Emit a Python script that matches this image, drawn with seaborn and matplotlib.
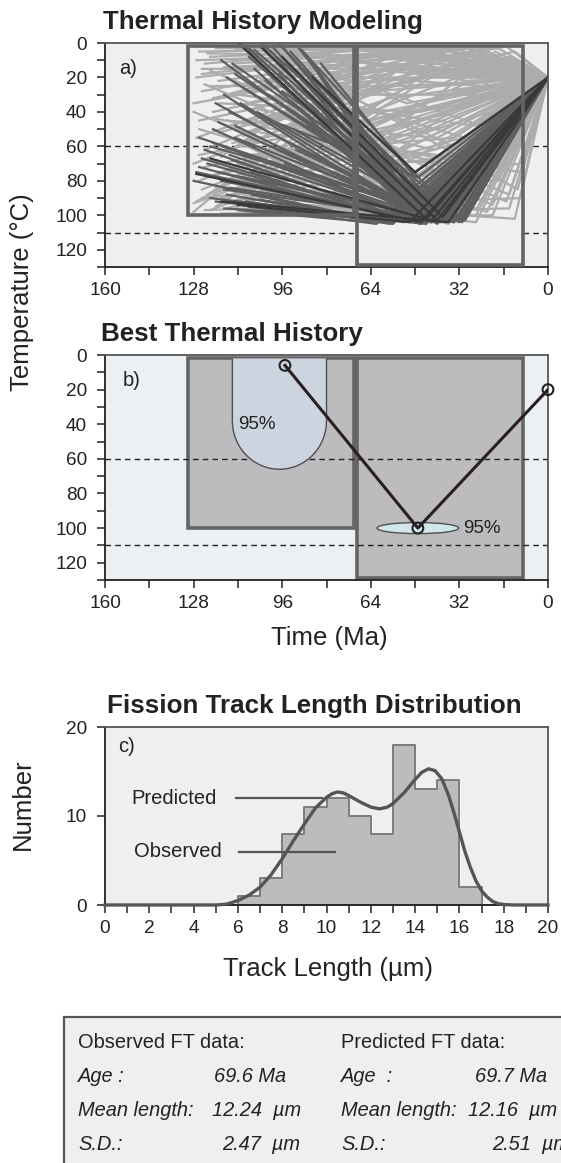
import numpy as np
import pandas as pd
import matplotlib
matplotlib.use("Agg")
import matplotlib.pyplot as plt
from matplotlib import patches
import seaborn as sns

# ---- panel a: trayectorias t-T (inicio caja 1 -> punto medio caja 2 -> superficie)
end_time = 0
end_temp = 20

# trayectorias aceptables (gris claro)
acc_t0 = [126, 124, 127, 125, 122, 128, 120, 126, 118, 115, 127, 124, 121, 128, 119, 126, 123, 127, 120, 125,
          117, 122, 128, 113, 110, 116, 108, 112, 105, 100, 98, 95, 90, 86, 82, 78, 75, 72, 102, 96,
          118, 124, 114, 106, 92, 88, 84, 80, 76, 109, 127, 121, 111, 103, 99, 93, 87, 125, 119, 115,
          127, 125, 123, 121, 119, 117, 115, 113, 111, 109, 107, 105, 103, 101, 99, 97, 95, 93, 91, 89,
          126, 124, 122, 120, 118, 116, 114, 112, 110, 108, 106, 104, 102, 100, 98, 96, 94, 92, 90, 88,
          128, 126, 124, 122, 120, 118, 116, 114, 112, 110, 85, 83, 81, 79, 77, 128, 125, 122, 119, 116]
acc_T0 = [5, 12, 20, 28, 8, 35, 3, 45, 15, 25, 55, 62, 40, 70, 52, 80, 88, 92, 95, 85,
          90, 97, 93, 96, 88, 75, 65, 30, 20, 5, 12, 40, 60, 85, 97, 70, 50, 30, 92, 99,
          99, 97, 80, 45, 15, 4, 25, 10, 3, 10, 75, 68, 58, 72, 82, 90, 94, 90, 86, 93,
          10, 18, 6, 32, 22, 14, 48, 4, 36, 60, 8, 26, 44, 2, 16, 30, 6, 22, 50, 12,
          65, 72, 78, 84, 90, 96, 58, 70, 82, 92, 38, 52, 66, 80, 94, 20, 34, 46, 74, 88,
          40, 50, 24, 16, 44, 66, 30, 12, 86, 54, 40, 60, 80, 22, 90, 98, 15, 25, 35, 45]
acc_t1 = [60, 52, 45, 38, 30, 24, 18, 12, 62, 55, 48, 40, 33, 27, 20, 14, 58, 50, 44, 36,
          28, 22, 16, 60, 52, 42, 34, 26, 19, 12, 62, 54, 46, 38, 30, 22, 15, 11, 26, 20,
          14, 10, 18, 24, 28, 58, 48, 40, 32, 25, 64, 60, 56, 36, 32, 26, 12, 10, 13, 9,
          55, 48, 42, 36, 30, 25, 20, 16, 60, 53, 47, 41, 35, 29, 23, 17, 13, 63, 57, 51,
          45, 39, 33, 27, 21, 15, 11, 59, 53, 47, 41, 35, 29, 23, 17, 62, 56, 50, 44, 38,
          32, 26, 20, 14, 10, 61, 55, 49, 43, 37, 31, 25, 19, 15, 11, 64, 58, 52, 46, 40]
acc_T1 = [3, 2, 4, 3, 2, 4, 3, 5, 8, 12, 10, 6, 9, 7, 10, 8, 20, 25, 18, 30,
          22, 35, 28, 40, 45, 50, 55, 48, 60, 55, 70, 85, 95, 100, 103, 98, 92, 85, 104, 100,
          96, 90, 80, 75, 65, 5, 3, 6, 4, 3, 100, 104, 102, 105, 104, 100, 102, 70, 60, 45,
          6, 4, 8, 5, 3, 7, 9, 12, 15, 14, 18, 20, 16, 22, 25, 30, 20, 28, 32, 35,
          38, 42, 28, 34, 40, 50, 30, 45, 52, 58, 62, 66, 70, 75, 65, 80, 88, 92, 96, 99,
          102, 97, 94, 88, 75, 2, 3, 5, 2, 4, 6, 3, 5, 2, 10, 12, 15, 25, 40, 55]

# trayectorias buenas (gris oscuro)
good_t0 = [111, 108, 104, 100, 97, 94, 90, 87, 113, 110, 106, 102, 117, 119, 115, 121, 113, 125, 127, 122,
           118, 116, 112, 108, 104, 98, 95, 92, 89, 85, 82, 100, 110, 96, 93, 120, 107, 114, 103, 91,
           112, 109, 106, 103, 99, 96, 93, 89, 86, 84, 118, 116, 114, 111, 108, 105, 101, 97, 94, 91,
           126, 124, 123, 121, 119, 117, 115, 113, 110, 107, 128, 126, 122, 120, 117, 115, 112, 109, 106, 102]
good_T0 = [1, 3, 2, 5, 1, 6, 3, 8, 18, 26, 15, 22, 30, 46, 40, 50, 55, 67, 75, 60,
           80, 88, 93, 95, 91, 85, 70, 50, 35, 20, 12, 45, 65, 28, 15, 35, 75, 68, 58, 62,
           0, 2, 4, 1, 3, 2, 5, 4, 10, 14, 10, 20, 12, 35, 8, 40, 30, 18, 38, 25,
           55, 62, 70, 58, 75, 85, 65, 48, 78, 88, 80, 72, 90, 92, 96, 84, 97, 92, 98, 94]
good_t1 = [46, 42, 38, 50, 34, 44, 40, 48, 36, 32, 45, 41, 47, 43, 37, 51, 39, 49, 45, 35,
           42, 58, 55, 62, 52, 46, 40, 33, 44, 48, 49, 47, 38, 30, 36, 41, 53, 46, 34, 39,
           43, 39, 35, 31, 45, 41, 37, 33, 47, 43, 39, 35, 31, 44, 40, 36, 32, 48, 42, 38,
           34, 50, 46, 42, 38, 34, 45, 41, 37, 60, 56, 52, 48, 44, 40, 36, 64, 57, 49, 42]
good_T1 = [100, 102, 103, 98, 104, 101, 104, 103, 101, 103, 104, 100, 102, 103, 104, 101, 102, 104, 103, 100,
           104, 104, 103, 105, 104, 103, 101, 103, 104, 75, 76, 78, 104, 103, 104, 104, 103, 105, 104, 102,
           103, 104, 102, 103, 100, 104, 103, 102, 99, 103, 104, 103, 104, 101, 105, 103, 104, 102, 104, 103,
           104, 103, 105, 104, 103, 104, 102, 104, 103, 104, 105, 103, 104, 105, 104, 103, 104, 105, 103, 104]

# mejores ajustes (casi negro)
top_t0 = [111, 103, 127, 122, 112, 118, 85, 96]
top_T0 = [1, 3, 76, 67, 94, 92, 20, 8]
top_t1 = [44, 40, 46, 42, 50, 36, 48, 38]
top_T1 = [102, 103, 104, 103, 104, 104, 75, 101]

# ---- panel b: mejor historia termica
best_time = [95, 47, 0]
best_temp = [6, 100, 20]

# cajas de restriccion: (tiempo izq, tiempo der), (temp sup, temp inf)
box_time = [(130, 70), (69, 9)]
box_temp = [(2, 100), (2, 129)]
dashed_temps = [60, 110]

# ---- panel c: distribucion de longitudes
bin_edges = list(range(0, 21))
obs_counts = [0, 0, 0, 0, 0, 0, 1, 3, 8, 11, 12, 10, 8, 18, 13, 14, 2, 0, 0, 0]
pred_len = [0, 1, 2, 3, 4, 5, 5.5, 6, 6.5, 7, 7.5, 8, 8.5, 9, 9.5, 10, 10.25, 10.5, 10.75, 11,
            11.5, 12, 12.4, 12.75, 13, 13.5, 14, 14.3, 14.6, 14.9, 15.2, 15.5, 15.75, 16, 16.25,
            16.5, 16.75, 17, 17.25, 17.5, 17.75, 18, 18.5, 19, 20]
pred_num = [0, 0, 0, 0, 0, 0, 0.1, 0.5, 1.1, 2.0, 3.4, 5.2, 7.2, 9.1, 10.9, 12.1, 12.5, 12.7, 12.6, 12.3,
            11.6, 11.0, 10.8, 11.0, 11.4, 12.6, 14.1, 14.9, 15.3, 15.1, 14.2, 12.4, 10.4, 8.2, 6.0,
            4.2, 2.7, 1.6, 0.9, 0.4, 0.15, 0.05, 0, 0, 0]

obs_stats = ["Age :", "Mean length:", "S.D.:"]
obs_vals = ["69.6 Ma", "12.24  µm", "2.47  µm"]
pred_stats = ["Age  :", "Mean length:", "S.D.:"]
pred_vals = ["69.7 Ma", "12.16  µm", "2.51  µm"]

plt.rcParams['font.family'] = ['Liberation Sans', 'DejaVu Sans']
plt.rcParams['xtick.direction'] = 'out'
plt.rcParams['ytick.direction'] = 'out'

W, H = 561, 1163
fig = plt.figure(figsize=(W / 100, H / 100), dpi=100)


def px_axes(x0, y0, x1, y1):
    return fig.add_axes([x0 / W, 1 - y1 / H, (x1 - x0) / W, (y1 - y0) / H])


def ftext(x, y, s, **kw):
    fig.text(x / W, 1 - y / H, s, **kw)


def paths_frame(t0, T0, t1, T1):
    rows = []
    for i in range(len(t0)):
        rows.append((i, t0[i], T0[i]))
        rows.append((i, t1[i], T1[i]))
        rows.append((i, end_time, end_temp))
    return pd.DataFrame(rows, columns=['path', 'time', 'temp'])


def style_time_axis(ax, bg):
    ax.set_facecolor(bg)
    ax.set_xlim(160, 0)
    ax.set_ylim(130, 0)
    ax.set_xticks([160, 128, 96, 64, 32, 0])
    ax.set_xticks([144, 112, 80, 48, 16], minor=True)
    ax.set_yticks([0, 20, 40, 60, 80, 100, 120])
    ax.set_yticks([10, 30, 50, 70, 90, 110, 130], minor=True)
    ax.tick_params(which='both', length=6, width=1.1, color='#222222', labelsize=13.7,
                   labelcolor='#222222')
    ax.tick_params(axis='x', which='major', pad=5)
    ax.tick_params(axis='y', which='major', pad=7)
    for s in ['left', 'bottom']:
        ax.spines[s].set_color('#222222')
        ax.spines[s].set_linewidth(1.3)
    for s in ['top', 'right']:
        ax.spines[s].set_color('#555555')
        ax.spines[s].set_linewidth(1.3)
    for T in dashed_temps:
        ax.axhline(T, color='#222222', lw=1.0, ls=(0, (4, 3)), zorder=1.1)


# ================= panel a
ax_a = px_axes(105, 43, 548, 267)
style_time_axis(ax_a, '#efefef')
# caja 2 con relleno del fondo (tapa las lineas discontinuas)
(bt0, bt1), (bT0, bT1) = box_time[1], box_temp[1]
ax_a.add_patch(patches.Rectangle((bt1, bT0), bt0 - bt1, bT1 - bT0, facecolor='#efefef',
                                 edgecolor='none', zorder=1.5))
for df_p, col in [(paths_frame(acc_t0, acc_T0, acc_t1, acc_T1), '#acacac'),
                  (paths_frame(good_t0, good_T0, good_t1, good_T1), '#5e5e5e'),
                  (paths_frame(top_t0, top_T0, top_t1, top_T1), '#393939')]:
    sns.lineplot(data=df_p, x='time', y='temp', units='path', estimator=None, sort=False,
                 color=col, lw=1.6, ax=ax_a, zorder=2)
for (t0, t1), (T0, T1) in zip(box_time, box_temp):
    ax_a.add_patch(patches.Rectangle((t1, T0), t0 - t1, T1 - T0, fill=False,
                                     edgecolor='#646464', lw=2.6, zorder=3))
ax_a.set_xlabel('')
ax_a.set_ylabel('')
ax_a.text(155, 15, 'a)', fontsize=14.5, color='#222222', ha='left', va='center')

# ================= panel b
ax_b = px_axes(105, 355, 548, 580)
style_time_axis(ax_b, '#eaf0f4')
for (t0, t1), (T0, T1) in zip(box_time, box_temp):
    ax_b.add_patch(patches.Rectangle((t1, T0), t0 - t1, T1 - T0, facecolor='#bcbcbf',
                                     edgecolor='#646464', lw=2.6, zorder=1))
# region 95% (forma de U)
u_left, u_right, u_top, u_side, u_bot = 114, 80, 2, 38, 66
ang = np.linspace(0, np.pi, 60)
cx, rx, ry = (u_left + u_right) / 2, (u_left - u_right) / 2, u_bot - u_side
u_x = np.concatenate([[u_left], cx + rx * np.cos(ang), [u_right]])
u_y = np.concatenate([[u_top], u_side + ry * np.sin(ang), [u_top]])
ax_b.add_patch(patches.Polygon(np.column_stack([u_x, u_y]), closed=False, facecolor='#ccd5df',
                               edgecolor='#505050', lw=1.0, zorder=1.5))
ax_b.add_patch(patches.Ellipse((best_time[1], best_temp[1]), 29.5, 6.4, facecolor='#d2e6ea',
                               edgecolor='#505050', lw=1.0, zorder=1.5))
sns.lineplot(x=best_time, y=best_temp, sort=False, color='#2a1e24', lw=2.2, ax=ax_b, zorder=3)
sns.scatterplot(x=best_time, y=best_temp, s=60, color='#222222', facecolors='none',
                edgecolor='#222222', linewidth=1.5, ax=ax_b, zorder=4, clip_on=False)
ax_b.text(112, 40, '95%', fontsize=13.5, color='#222222', ha='left', va='center', zorder=5)
ax_b.text(30.5, 100, '95%', fontsize=13.5, color='#222222', ha='left', va='center', zorder=5)
ax_b.text(153.5, 15, 'b)', fontsize=14.5, color='#222222', ha='left', va='center')
ax_b.set_xlabel('')
ax_b.set_ylabel('')

# ================= panel c
ax_c = px_axes(105, 727, 548, 905)
ax_c.set_facecolor('#efefef')
centers = [(bin_edges[i] + bin_edges[i + 1]) / 2 for i in range(len(obs_counts))]
sns.histplot(x=centers, weights=obs_counts, bins=bin_edges, element='step', fill=True,
             color='#bcbcbf', alpha=1, edgecolor='#7c7c7c', linewidth=1.4, ax=ax_c, zorder=2)
sns.lineplot(x=pred_len, y=pred_num, color='#555555', lw=2.4, ax=ax_c, zorder=3, clip_on=False)
ax_c.plot([5.9, 9.8], [12, 12], color='#555555', lw=1.6, zorder=3)
ax_c.plot([6.05, 10.4], [6, 6], color='#555555', lw=1.6, zorder=3)
ax_c.text(1.2, 12, 'Predicted', fontsize=14.5, color='#222222', ha='left', va='center')
ax_c.text(1.3, 6, 'Observed', fontsize=14.5, color='#222222', ha='left', va='center')
ax_c.text(0.6, 17.8, 'c)', fontsize=14.5, color='#222222', ha='left', va='center')
ax_c.set_xlim(0, 20)
ax_c.set_ylim(0, 20)
ax_c.set_xticks(range(0, 21, 2))
ax_c.set_xticks(range(1, 20, 2), minor=True)
ax_c.set_yticks([0, 10, 20])
ax_c.tick_params(which='both', length=6, width=1.1, color='#222222', labelsize=13.7,
                 labelcolor='#222222')
ax_c.tick_params(axis='x', which='major', pad=5)
ax_c.tick_params(axis='y', which='major', pad=7)
for s in ['left', 'bottom']:
    ax_c.spines[s].set_color('#222222')
    ax_c.spines[s].set_linewidth(1.3)
for s in ['top', 'right']:
    ax_c.spines[s].set_color('#555555')
    ax_c.spines[s].set_linewidth(1.3)
ax_c.set_xlabel('')
ax_c.set_ylabel('')

# ================= titulos y etiquetas
title_kw = dict(fontsize=18.7, fontweight='bold', color='#222222', ha='left', va='baseline')
ftext(103, 29, 'Thermal History Modeling', **title_kw)
ftext(101, 341, 'Best Thermal History', **title_kw)
ftext(107, 713, 'Fission Track Length Distribution', **title_kw)

lab_kw = dict(fontsize=18.5, color='#222222', ha='center', va='center')
ftext(22, 292, 'Temperature (°C)', rotation=90, **lab_kw)
ftext(329, 638, 'Time (Ma)', **lab_kw)
ftext(23, 804, 'Number', rotation=90, **lab_kw)
ftext(328, 969, 'Track Length (µm)', **lab_kw)

# ================= tabla de resumen
fig.patches.append(patches.Rectangle((64 / W, -0.05), 1.0, 1 - 1017 / H + 0.05,
                                     transform=fig.transFigure, facecolor='#efefef',
                                     edgecolor='#555555', lw=1.6, zorder=0))
tab_kw = dict(fontsize=14.4, color='#222222', ha='left', va='center')
ftext(78, 1043, 'Observed FT data:', **tab_kw)
ftext(341, 1043, 'Predicted FT data:', **tab_kw)
row_y = [1077, 1111, 1144]
obs_val_x = [214, 212, 222]
pred_val_x = [475, 468, 492]
for i in range(3):
    ftext(78, row_y[i], obs_stats[i], style='italic', **tab_kw)
    ftext(obs_val_x[i], row_y[i], obs_vals[i], style='italic', **tab_kw)
    ftext(341, row_y[i], pred_stats[i], style='italic', **tab_kw)
    ftext(pred_val_x[i], row_y[i], pred_vals[i], style='italic', **tab_kw)

fig.savefig('out.png', dpi=100)
